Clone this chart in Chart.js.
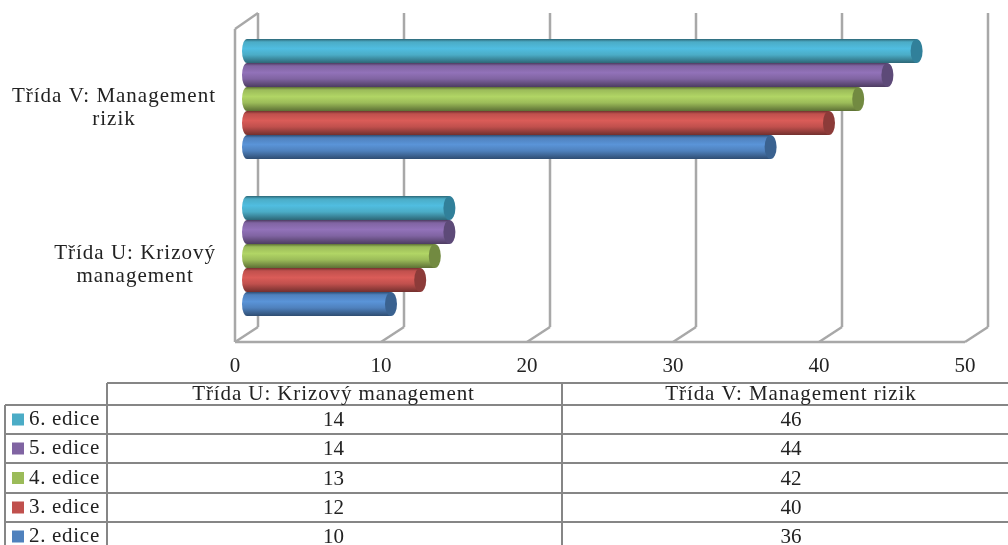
<!DOCTYPE html>
<html>
<head>
<meta charset="utf-8">
<style>
  html, body { margin: 0; padding: 0; background: #fff; overflow: hidden; }
  canvas { display: block; filter: blur(0.4px); }
</style>
<script src="https://cdn.jsdelivr.net/npm/chart.js@4"></script>
</head>
<body>
<canvas id="editions" width="1008" height="545"></canvas>
<script>
  // same order as the data table
  const categories = ["Třída U: Krizový management", "Třída V: Management rizik"]
  const categoryLines = [["Třída U: Krizový", "management"], ["Třída V: Management", "rizik"]]
  const seriesNames = ["6. edice", "5. edice", "4. edice", "3. edice", "2. edice"]
  const classU = [14, 14, 13, 12, 10]
  const classV = [46, 44, 42, 40, 36]

  const baseColors = ["#4bacc6", "#8064a2", "#9bbb59", "#c0504d", "#4f81bd"]
  const lightColors = ["#50bde0", "#9272b9", "#b1d565", "#da5c58", "#5a94d8"]
  const darkColors = ["#2d6777", "#4d3c61", "#5d7035", "#73302e", "#2f4d72"]
  const capColors = ["#31809a", "#5d4a78", "#728a41", "#8c3b39", "#3a6290"]

  const FONT = '"Liberation Serif", serif'
  const TEXT_COLOR = "#222"
  const FRAME_COLOR = "#a8a8a8"
  const TABLE_COLOR = "#868686"

  const line = (ctx, x1, y1, x2, y2) => {
    ctx.beginPath()
    ctx.moveTo(x1, y1)
    ctx.lineTo(x2, y2)
    ctx.stroke()
  }

  const setText = (ctx, size, spacing, align) => {
    ctx.font = `${size}px ${FONT}`
    ctx.letterSpacing = spacing
    ctx.fillStyle = TEXT_COLOR
    ctx.textAlign = align
    ctx.textBaseline = "middle"
  }

  // the 3D looking walls and floor of the excel chart
  const framePlugin = {
    id: "frame",
    beforeDatasetsDraw(chart) {
      const { ctx, scales } = chart
      const frontTop = 29, frontBottom = 342, backTop = 13, backBottom = 327
      const front = v => scales.x.getPixelForValue(v) - 10
      const back = v => scales.x.getPixelForValue(v) + 13
      ctx.save()
      ctx.strokeStyle = FRAME_COLOR
      ctx.lineWidth = 2.5
      scales.x.ticks.forEach(tick => {
        line(ctx, back(tick.value), backTop, back(tick.value), backBottom)
        line(ctx, back(tick.value), backBottom, front(tick.value), frontBottom)
      })
      line(ctx, front(0), frontTop, front(0), frontBottom)
      line(ctx, front(0), frontTop, back(0), backTop)
      line(ctx, front(0), frontBottom, front(50), frontBottom)
      ctx.restore()
    }
  }

  // cylinders instead of the flat bars
  const cylinderPlugin = {
    id: "cylinder",
    beforeDatasetDraw(chart, args) {
      const { ctx } = chart
      const i = args.index
      args.meta.data.forEach(bar => {
        const top = bar.y - bar.height / 2
        const bottom = bar.y + bar.height / 2
        const ry = bar.height / 2
        const grad = ctx.createLinearGradient(0, top, 0, bottom)
        grad.addColorStop(0, darkColors[i])
        grad.addColorStop(0.12, baseColors[i])
        grad.addColorStop(0.4, lightColors[i])
        grad.addColorStop(0.66, baseColors[i])
        grad.addColorStop(1, darkColors[i])
        ctx.save()
        ctx.fillStyle = grad
        ctx.beginPath()
        ctx.ellipse(bar.base + 2, bar.y, 5, ry, 0, Math.PI / 2, Math.PI * 1.5)
        ctx.lineTo(bar.x, top)
        ctx.lineTo(bar.x, bottom)
        ctx.closePath()
        ctx.fill()
        ctx.fillStyle = capColors[i]
        ctx.beginPath()
        ctx.ellipse(bar.x, bar.y, 6, ry, 0, 0, Math.PI * 2)
        ctx.fill()
        ctx.restore()
      })
      return false
    }
  }

  // two line category labels, block is right aligned and lines centred
  const categoryLabelPlugin = {
    id: "categoryLabels",
    afterDraw(chart) {
      const { ctx, scales } = chart
      const rightEdge = 216
      ctx.save()
      setText(ctx, 21, "1px", "center")
      categoryLines.forEach((lines, c) => {
        const y = scales.y.getPixelForValue(c)
        const width = Math.max(...lines.map(t => ctx.measureText(t).width))
        lines.forEach((text, l) => {
          ctx.fillText(text, rightEdge - width / 2, y - 3 + l * 23.5)
        })
      })
      ctx.restore()
    }
  }

  // data table under the chart, last row is cut by the picture edge
  const tablePlugin = {
    id: "dataTable",
    afterDraw(chart) {
      const { ctx, width } = chart
      const rowLines = [405, 434, 463, 493, 522, 551]
      const headTop = 383, legendLeft = 5, colA = 107, colB = 562, colEnd = width + 2
      const series = [classU, classV]
      ctx.save()
      ctx.strokeStyle = TABLE_COLOR
      ctx.lineWidth = 2
      line(ctx, colA, headTop, colEnd, headTop)
      line(ctx, colA, headTop, colA, 551)
      line(ctx, colB, headTop, colB, 551)
      line(ctx, legendLeft, rowLines[0], legendLeft, 551)
      rowLines.forEach(y => line(ctx, legendLeft, y, colEnd, y))

      const centers = [(colA + colB) / 2 - 1, 791]
      setText(ctx, 21, "0.9px", "center")
      categories.forEach((name, c) => ctx.fillText(name, centers[c], 394))

      seriesNames.forEach((name, s) => {
        const mid = (rowLines[s] + rowLines[s + 1]) / 2
        ctx.fillStyle = baseColors[s]
        ctx.fillRect(12, mid - 6, 12, 12)
        setText(ctx, 21, "0.7px", "left")
        ctx.fillText(name, 29, mid)
        setText(ctx, 21, "0px", "center")
        series.forEach((values, c) => ctx.fillText(String(values[s]), centers[c], mid + 1))
      })
      ctx.restore()
    }
  }

  new Chart(document.getElementById("editions").getContext("2d"), {
    type: "bar",
    data: {
      labels: categories,
      datasets: seriesNames.map((name, s) => ({
        label: name,
        data: [classU[s], classV[s]],
        backgroundColor: baseColors[s],
        barPercentage: 1,
        categoryPercentage: 0.764,
      }))
    },
    options: {
      responsive: false,
      animation: false,
      indexAxis: "y",
      layout: { padding: { top: 20.5, right: 33, bottom: 0, left: 0 } },
      plugins: {
        legend: { display: false },
        tooltip: { enabled: false },
      },
      scales: {
        x: {
          min: 0,
          max: 50,
          afterFit: scale => { scale.height = 210.5 },
          grid: { display: false },
          border: { display: false },
          ticks: {
            stepSize: 10,
            maxRotation: 0,
            padding: 11,
            labelOffset: -10,
            color: TEXT_COLOR,
            font: { family: FONT, size: 21 },
          }
        },
        y: {
          reverse: true,
          afterFit: scale => { scale.width = 245 },
          grid: { display: false },
          border: { display: false },
          ticks: { display: false },
        }
      }
    },
    plugins: [framePlugin, cylinderPlugin, categoryLabelPlugin, tablePlugin]
  })
</script>
</body>
</html>
